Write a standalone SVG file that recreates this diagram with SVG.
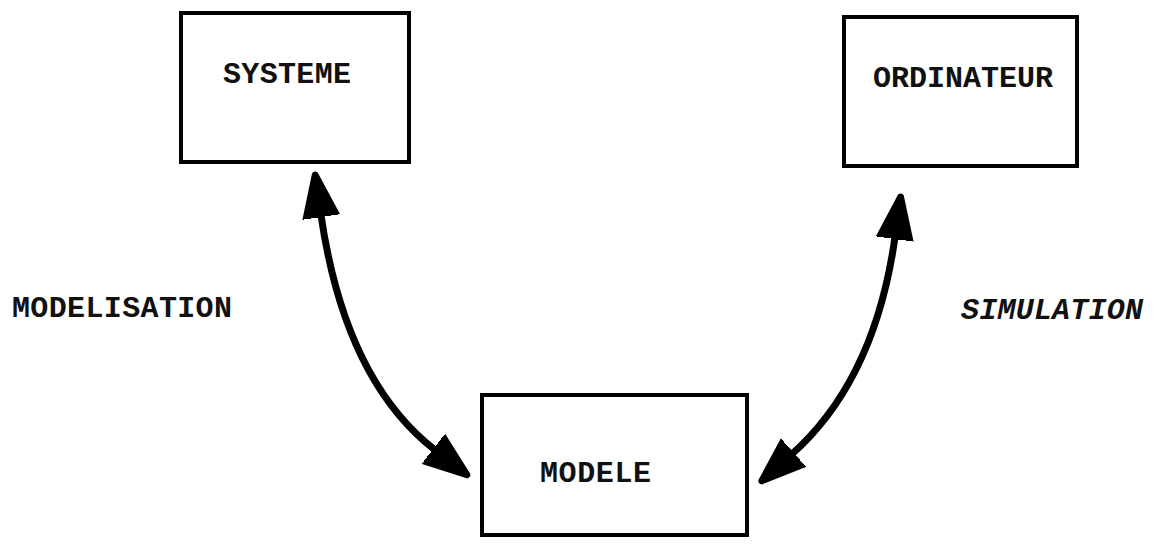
<svg xmlns="http://www.w3.org/2000/svg" width="1153" height="546" viewBox="0 0 1153 546">
<style>
.box{fill:none;stroke:#000;stroke-width:4}
.lbl{font-family:"Liberation Mono","Courier New",monospace;font-size:30px;font-weight:bold;fill:#111}
.conn{fill:none;stroke:#000;stroke-width:7}
</style>
<defs>
<marker id="ah" viewBox="-2 -20 46 40" refX="0" refY="0" markerUnits="userSpaceOnUse" markerWidth="46" markerHeight="40" orient="auto-start-reverse">
<path d="M-2,-18 L42,-2 Q44,0 42,2 L-2,18 Z" fill="#000" stroke="#000" stroke-width="2" stroke-linejoin="round"/>
</marker>
</defs>
<rect width="1153" height="546" fill="#fff"/>
<g id="systeme">
<rect class="box" x="181" y="13" width="228" height="149"/>
<text class="lbl" x="223" y="83" textLength="128">SYSTEME</text>
</g>
<g id="ordinateur">
<rect class="box" x="844" y="17" width="233" height="149"/>
<text class="lbl" x="873" y="87" textLength="180">ORDINATEUR</text>
</g>
<g id="modele">
<rect class="box" x="482" y="395" width="265" height="140"/>
<text class="lbl" x="540" y="482" textLength="111">MODELE</text>
</g>
<g id="labels">
<text class="lbl" x="12" y="317" textLength="220">MODELISATION</text>
<text class="lbl" x="961" y="319" textLength="182" font-style="italic">SIMULATION</text>
</g>
<g id="connectors">
<path class="conn" d="M321,215 Q345,380 435,450" marker-start="url(#ah)" marker-end="url(#ah)"/>
<path class="conn" d="M895,237 Q875,380 792,454" marker-start="url(#ah)" marker-end="url(#ah)"/>
</g>
</svg>
